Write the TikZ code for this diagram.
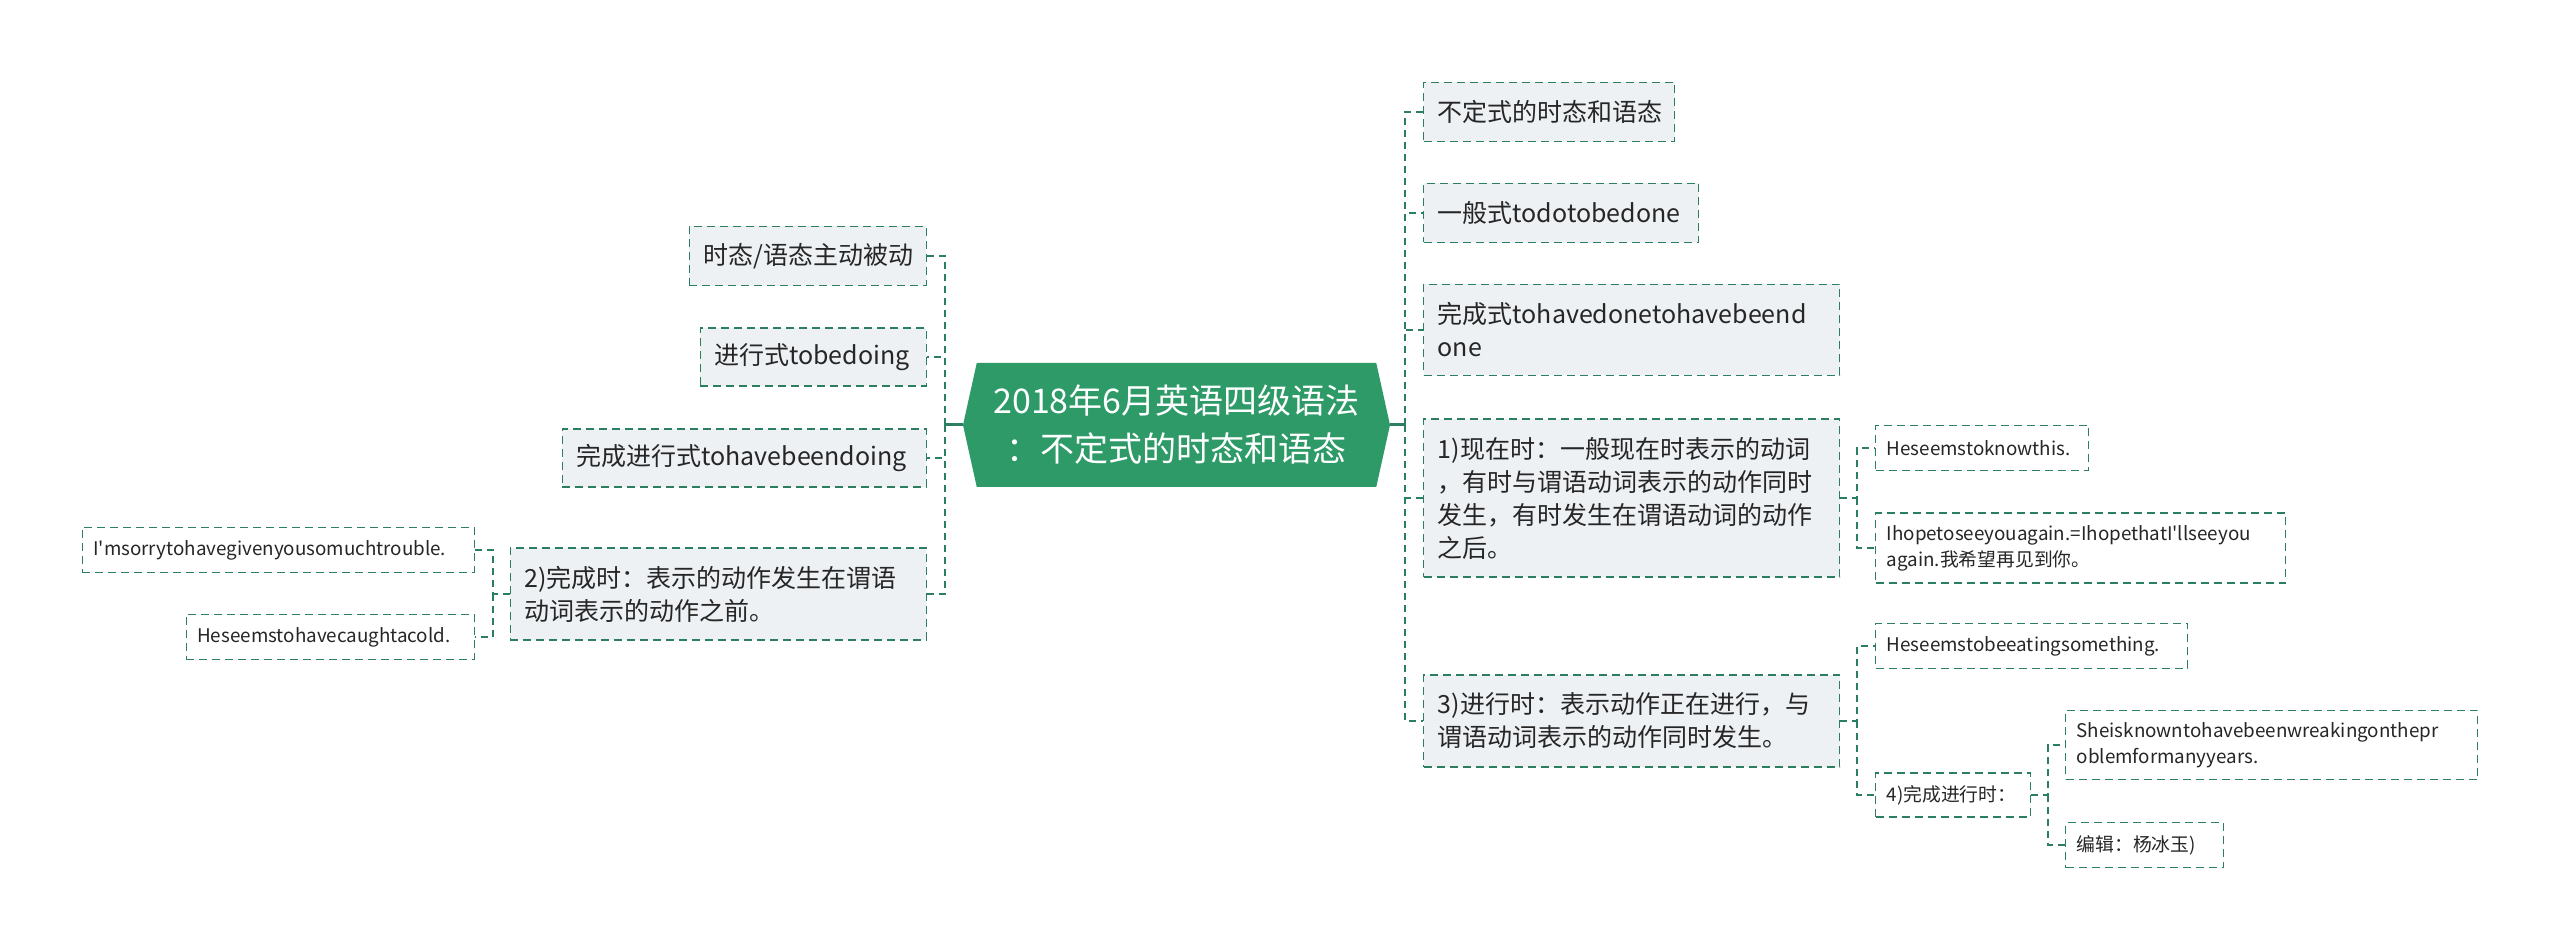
\documentclass[tikz,border=0pt]{standalone}
\usepackage{fontspec}
\setmainfont{Noto Sans CJK SC}
\usetikzlibrary{shapes.symbols}
\definecolor{Hub}{HTML}{2E9A67}
\definecolor{Edge}{HTML}{2C7E60}
\definecolor{Panel}{HTML}{EEF1F4}
\definecolor{Ink}{HTML}{262626}
\tikzset{
  hub/.style={signal,signal to=east and west,signal pointer angle=155,fill=Hub,text=white,align=center,font=\fontsize{17}{24}\selectfont,inner sep=0pt},
  topic/.style={draw=Edge,dash pattern=on 4pt off 2.5pt,line width=0.7pt,fill=Panel,text=Ink,align=left,inner xsep=7pt,inner ysep=0pt,font=\fontsize{12.5}{16.5}\selectfont},
  leaf/.style={draw=Edge,dash pattern=on 4pt off 2.5pt,line width=0.7pt,fill=white,text=Ink,align=left,inner xsep=5.5pt,inner ysep=0pt,font=\fontsize{9.4}{13}\selectfont},
  link/.style={draw=Edge,line width=1.2pt,dash pattern=on 3.5pt off 2.5pt},
  stem/.style={draw=Edge,line width=1.5pt}
}

\begin{document}
\begin{tikzpicture}[x=0.5pt,y=-0.5pt]
  \useasboundingbox (0,0) rectangle (2560,951);
  \node[hub,minimum width=213.5pt,minimum height=62pt] (hub) at (1176.5,425) {2018年6月英语四级语法\\：不定式的时态和语态};

  % left side
  \node[topic,anchor=east,text width=104.5pt,minimum height=29.5pt] (voice) at (927,256) {时态/语态主动被动};
  \node[topic,anchor=east,text width=99pt,minimum height=29pt] (prog) at (927,357) {进行式tobedoing};
  \node[topic,anchor=east,text width=168pt,minimum height=29pt] (perfprog) at (927,458) {完成进行式tohavebeendoing};
  \node[topic,anchor=east,text width=194pt,minimum height=46pt] (perf) at (927,594) {2)完成时：表示的动作发生在谓语\\动词表示的动作之前。};
  \node[leaf,anchor=east,text width=185pt,minimum height=22.5pt] (sorry) at (475,550) {I\textquotesingle msorrytohavegivenyousomuchtrouble.};
  \node[leaf,anchor=east,text width=133pt,minimum height=22.5pt] (cold) at (475,637) {Heseemstohavecaughtacold.};

  % right side
  \node[topic,anchor=west,text width=111.5pt,minimum height=29.5pt] (title) at (1423,112) {不定式的时态和语态};
  \node[topic,anchor=west,text width=123.5pt,minimum height=29.5pt] (simple) at (1423,213) {一般式todotobedone};
  \node[topic,anchor=west,text width=194pt,minimum height=45.5pt] (perfect) at (1423,330) {完成式tohavedonetohavebeend\\one};
  \node[topic,anchor=west,text width=194pt,minimum height=79pt] (present) at (1423,498) {1)现在时：一般现在时表示的动词\\，有时与谓语动词表示的动作同时\\发生，有时发生在谓语动词的动作\\之后。};
  \node[topic,anchor=west,text width=194pt,minimum height=46pt] (going) at (1423,721) {3)进行时：表示动作正在进行，与\\谓语动词表示的动作同时发生。};
  \node[leaf,anchor=west,text width=95.5pt,minimum height=22.5pt] (know) at (1875,448) {Heseemstoknowthis.};
  \node[leaf,anchor=west,text width=194pt,minimum height=35pt] (hope) at (1875,548) {Ihopetoseeyouagain.=IhopethatI\textquotesingle llseeyou\\again.我希望再见到你。};
  \node[leaf,anchor=west,text width=145pt,minimum height=22.5pt] (eat) at (1875,646) {Heseemstobeeatingsomething.};
  \node[leaf,anchor=west,text width=66.5pt,minimum height=22pt] (perfgo) at (1875,795) {4)完成进行时：};
  \node[leaf,anchor=west,text width=195pt,minimum height=34.5pt] (known) at (2065,745) {Sheisknowntohavebeenwreakingonthepr\\oblemformanyyears.};
  \node[leaf,anchor=west,text width=68pt,minimum height=22.5pt] (editor) at (2065,845) {编辑：杨冰玉)};

  % trunks
  \coordinate (lt) at (945,425);
  \coordinate (rt) at (1405,425);
  \coordinate (perft) at (493,594);
  \coordinate (presentt) at (1857,498);
  \coordinate (goingt) at (1857,721);
  \coordinate (perfgot) at (2048,795);

  \draw[stem] (hub.west) -- (lt);
  \draw[stem] (hub.east) -- (rt);
  \foreach \n in {voice,prog,perfprog,perf}
    \draw[link] (lt) |- (\n.east);
  \foreach \n in {title,simple,perfect,present,going}
    \draw[link] (rt) |- (\n.west);
  \draw[link] (perf.west) -- (perft) |- (sorry.east);
  \draw[link] (perft) |- (cold.east);
  \draw[link] (present.east) -- (presentt) |- (know.west);
  \draw[link] (presentt) |- (hope.west);
  \draw[link] (going.east) -- (goingt) |- (eat.west);
  \draw[link] (goingt) |- (perfgo.west);
  \draw[link] (perfgo.east) -- (perfgot) |- (known.west);
  \draw[link] (perfgot) |- (editor.west);
\end{tikzpicture}
\end{document}
